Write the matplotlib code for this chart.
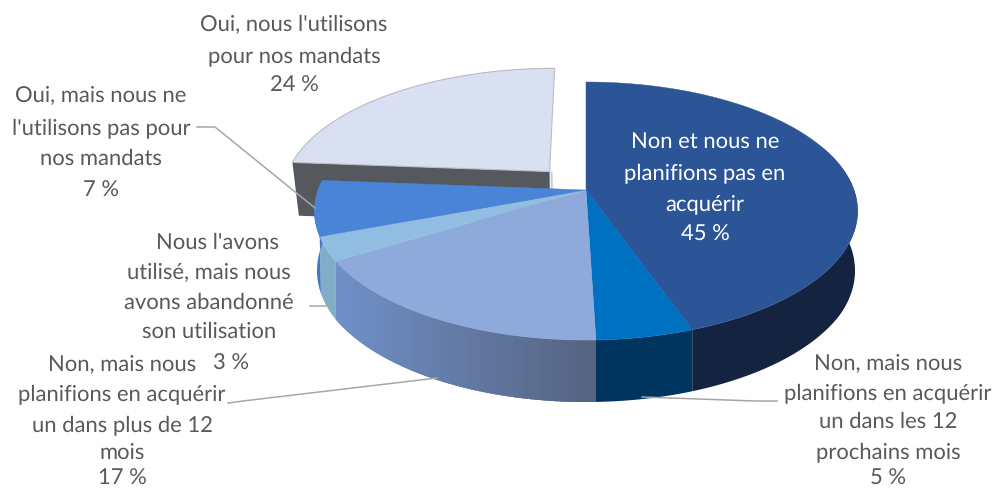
import numpy as np
import matplotlib
matplotlib.use("Agg")
import matplotlib.pyplot as plt
from matplotlib.colors import to_rgb

plt.rcParams["font.family"] = ["Lato", "DejaVu Sans"]
plt.rcParams["text.hinting"] = "none"

values = [45, 5, 17, 3, 7, 24]
top_colors = ["#2c5597", "#0070c0", "#8eaadb", "#92bde3", "#4a84d6", "#d9e0f1"]
wall_left = ["#14233f", "#00355f", "#6f90c8", "#82adc9", "#3f78c8", "#55585c"]
wall_right = ["#14233f", "#00355f", "#55627f", "#82adc9", "#3f78c8", "#55585c"]
exploded = [0, 0, 0, 0, 0, 0.205]

labels = [
    (294, 25, "Oui, nous l'utilisons", "#595959"),
    (294, 56, "pour nos mandats", "#595959"),
    (294, 86, "24 %", "#595959"),
    (101, 96, "Oui, mais nous ne", "#595959"),
    (101, 128, "l'utilisons pas pour", "#595959"),
    (101, 159, "nos mandats", "#595959"),
    (101, 191, "7 %", "#595959"),
    (705, 142, "Non et nous ne", "white"),
    (705, 173, "planifions pas en", "white"),
    (705, 204, "acquérir", "white"),
    (705, 235, "45 %", "white"),
    (217, 243, "Nous l'avons", "#595959"),
    (209, 273, "utilisé, mais nous", "#595959"),
    (209, 303, "avons abandonné", "#595959"),
    (209, 332, "son utilisation", "#595959"),
    (231, 364, "3 %", "#595959"),
    (122, 365, "Non, mais nous", "#595959"),
    (122, 394, "planifions en acquérir", "#595959"),
    (122, 425, "un dans plus de 12", "#595959"),
    (122, 453, "mois", "#595959"),
    (122, 479, "17 %", "#595959"),
    (888, 364, "Non, mais nous", "#595959"),
    (888, 393, "planifions en acquérir", "#595959"),
    (888, 422, "un dans les 12", "#595959"),
    (888, 452, "prochains mois", "#595959"),
    (888, 479, "5 %", "#595959"),
]

leaders = [
    ([197, 215, 315], [127, 127, 208]),
    ([310, 325, 331], [306, 306, 304]),
    ([228, 243, 437], [403, 401, 378]),
    ([777, 755, 642], [401, 401, 397]),
]

CX, CY = 586, 190
RX, RY = 268, 125.6
TILT = 0.163
DEPTH = 54.7


def project(u, v):
    # flat disc coordinates to screen, near side bigger than far side
    s = 1 / (1 - TILT * v)
    return CX + RX * u * s, CY + RY * v * s


def drop(u, v):
    # same point on the underside of the disc
    x, y = project(u, v)
    s = 1 / (1 - TILT * v)
    shrink = np.minimum(1, 0.985 + 0.03 * v)
    return CX + (x - CX) * shrink, y + DEPTH * s ** 0.7


fig = plt.figure(figsize=(9.96, 4.9), dpi=100)
ax = fig.add_axes([0, 0, 1, 1])
ax.set_xlim(0, 996)
ax.set_ylim(490, 0)
ax.axis("off")

edges = np.cumsum([0] + values) / sum(values) * 2 * np.pi
slices = []
for i in range(len(values)):
    t = np.linspace(edges[i], edges[i + 1], 160)
    mid = (edges[i] + edges[i + 1]) / 2
    du, dv = exploded[i] * np.sin(mid), -exploded[i] * np.cos(mid)
    slices.append((t, np.sin(t) + du, -np.cos(t) + dv, du, dv))

# exploded slice goes first, the rest of the pie sits in front of it
t, u, v, du, dv = slices[5]
x0, y0 = project(u[0], v[0])
x1, y1 = drop(u[0], v[0])
x2, y2 = project(du, dv)
x3, y3 = drop(du, dv)
ax.fill([x0, x2, x3, x1], [y0, y2, y3, y1], color=wall_left[5], lw=0, zorder=1)
ax.fill([x2 + 1, x2 + 3, x3 + 3, x3 + 1], [y2, y2, y3, y3], color="#c9ccd2", lw=0, zorder=1)
xs, ys = project(np.r_[du, u], np.r_[dv, v])
ax.fill(xs, ys, color=top_colors[5], ec="#b9bcc4", lw=0.8, zorder=2)

# outer walls: one solid shape, then overlapping strips where the shade changes
for i in range(5):
    t, u, v, du, dv = slices[i]
    keep = v > -0.35
    u, v = u[keep], v[keep]
    xt, yt = project(u, v)
    xb, yb = drop(u, v)
    c0, c1 = np.array(to_rgb(wall_left[i])), np.array(to_rgb(wall_right[i]))
    ax.fill(np.r_[xt, xb[::-1]], np.r_[yt, yb[::-1]], color=(c0 + c1) / 2, lw=0, zorder=3)
    if wall_left[i] == wall_right[i]:
        continue
    lo, hi = xt.min(), xt.max()
    order = np.argsort(xt)
    for a, b in zip(order[:-3:2], order[3::2]):
        f = (xt[a] - lo) / (hi - lo)
        ax.fill([xt[a], xt[b], xb[b], xb[a]], [yt[a], yt[b], yb[b], yb[a]],
                color=c0 + (c1 - c0) * f, lw=0, zorder=3)

for i in range(5):
    t, u, v, du, dv = slices[i]
    xs, ys = project(np.r_[du, u], np.r_[dv, v])
    ax.fill(xs, ys, color=top_colors[i], ec=top_colors[i], lw=0.3, zorder=4)

for lx, ly in leaders:
    ax.plot(lx, ly, color="#a6a6a6", lw=1.1, zorder=5)

for x, y, s, c in labels:
    ax.text(x, y, s, color=c, fontsize=15.8, ha="center", va="center", zorder=6)

fig.savefig("out.png", dpi=100)
